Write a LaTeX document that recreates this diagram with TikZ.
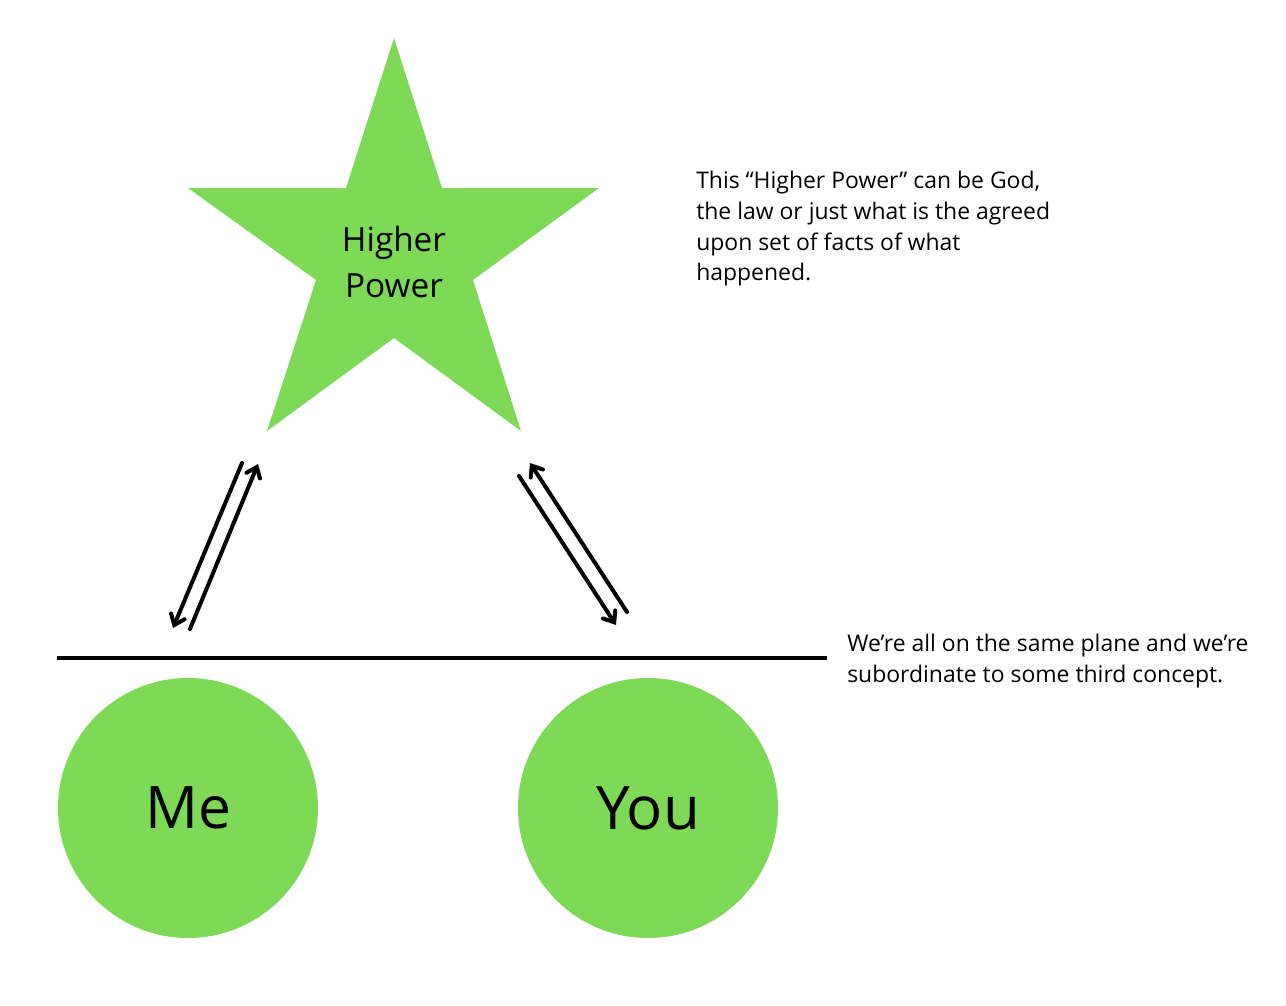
\documentclass[tikz,border=0pt]{standalone}
\usepackage{fontspec}
\setmainfont{Open Sans}
\usetikzlibrary{arrows.meta}
\definecolor{leaf}{RGB}{126,217,87}
\tikzset{
  shapefill/.style={fill=leaf, draw=none},
  pair/.style={line width=3pt, line cap=round, -{Straight Barb[length=7pt,width=11pt,line cap=round]}},
  note/.style={align=left, anchor=north west, inner sep=0pt, font=\fontsize{17.2}{23}\selectfont},
  plane/.style={line width=3pt}
}
\begin{document}
\begin{tikzpicture}[x=0.75pt,y=-0.75pt]
\useasboundingbox (0,0) rectangle (1286,1006);
% star
\filldraw[shapefill] (394,38) -- (442,188) -- (599,188) -- (473,280) -- (521,431) -- (394,338) -- (267,431) -- (316,280) -- (188,188) -- (346,188) -- cycle;
\node[align=center, font=\fontsize{25}{34.5}\selectfont] (hp) at (394,262) {Higher\\Power};
% circles
\node[shapefill, circle, minimum size=195pt, inner sep=0pt, font=\fontsize{44}{50}\selectfont] (me) at (188,808) {Me};
\node[shapefill, circle, minimum size=195pt, inner sep=0pt, font=\fontsize{45}{50}\selectfont] (you) at (648,808) {You};
% plane line
\coordinate (pl) at (57,658);
\coordinate (pr) at (827,658);
\draw[plane] (pl) -- (pr);
% arrows
\coordinate (a1s) at (242,463);
\coordinate (a1e) at (173,628);
\coordinate (a2s) at (190,629);
\coordinate (a2e) at (258,464);
\coordinate (b1s) at (519,476);
\coordinate (b1e) at (616,625);
\coordinate (b2s) at (627,612);
\coordinate (b2e) at (530,463);
\draw[pair] (a1s) -- (a1e);
\draw[pair] (a2s) -- (a2e);
\draw[pair] (b1s) -- (b1e);
\draw[pair] (b2s) -- (b2e);
% notes
\node[note] (n1) at (696,171) {This “Higher Power” can be God,\\the law or just what is the agreed\\upon set of facts of what\\happened.};
\node[note] (n2) at (847,634) {We’re all on the same plane and we’re\\subordinate to some third concept.};
\end{tikzpicture}
\end{document}
